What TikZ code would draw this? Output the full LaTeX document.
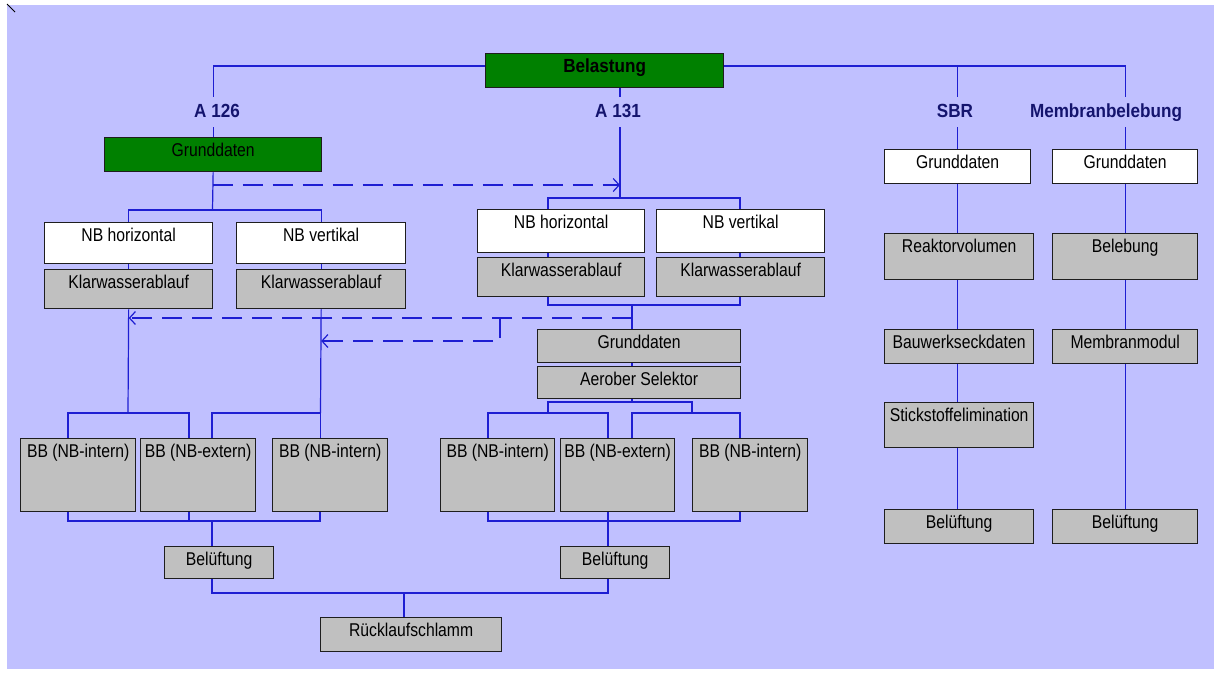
\documentclass[tikz,border=0pt]{standalone}
\usepackage{fontspec}
\usetikzlibrary{arrows.meta,calc}
\newfontfamily\boxfont{Liberation Sans}[FakeStretch=0.85]
\newfontfamily\lblfont{Liberation Sans}[FakeStretch=0.9]
\definecolor{bg}{RGB}{192,192,255}
\definecolor{lineblue}{RGB}{30,30,210}
\definecolor{navy}{RGB}{20,20,110}
\definecolor{boxgreen}{RGB}{0,128,0}
\definecolor{boxgray}{RGB}{192,192,192}
\definecolor{frame}{RGB}{30,30,30}
\newcommand\lblfnt{\lblfont\bfseries\fontsize{19}{21}\selectfont}
\tikzset{
  conn/.style={draw=lineblue, line width=1.2pt},
  dconn/.style={conn, dash pattern=on 20pt off 10pt, -{Straight Barb[length=6pt,width=13pt]}},
  boxframe/.style={draw=frame, line width=1.3pt, inner sep=0pt, anchor=north west},
  boxtext/.style={anchor=base, inner sep=0pt, font=\boxfont\fontsize{18.5}{20}\selectfont},
  lbl/.style={font=\lblfnt, text=navy, text height=13pt, text depth=3pt, minimum height=30pt, inner sep=0pt},
}
\newcommand\mkbox[7]{%
  \node[boxframe, fill=#6, minimum width={(#4-#2)*1pt}, minimum height={(#5-#3)*1pt}] (#1) at (#2,#3) {};
  \node[boxtext] (#1t) at ($(#1.north)+(0,19)$) {#7};
}
\begin{document}
\begin{tikzpicture}[x=1pt,y=-1pt]
\useasboundingbox (0,0) rectangle (1214,673);
\fill[white] (0,0) rectangle (1214,673);
\fill[bg] (7,5) rectangle (1214,669);
\draw[black, line width=1pt] (7,4) -- (15,12);

% top
\mkbox{bel}{485}{53}{723}{87}{boxgreen}{\lblfnt Belastung}
\node[lbl] (lA) at (217,112) {A 126};
\node[lbl] (lB) at (618,112) {A 131};
\node[lbl] (lS) at (955,112) {SBR};
\node[lbl] (lN) at (1106,112) {Membranbelebung};

% A 126
\mkbox{gdA}{104}{137}{321}{171}{boxgreen}{Grunddaten}
\mkbox{nbhL}{44}{222}{212}{263}{white}{NB horizontal}
\mkbox{nbvL}{236}{222}{405}{263}{white}{NB vertikal}
\mkbox{kwL1}{44}{269}{212}{308}{boxgray}{Klarwasserablauf}
\mkbox{kwL2}{236}{269}{405}{308}{boxgray}{Klarwasserablauf}
\mkbox{bbL1}{20}{438}{135}{511}{boxgray}{BB (NB-intern)}
\mkbox{bbL2}{140}{438}{255}{511}{boxgray}{BB (NB-extern)}
\mkbox{bbL3}{272}{438}{387}{511}{boxgray}{BB (NB-intern)}
\mkbox{belL}{164}{546}{273}{578}{boxgray}{Belüftung}
\mkbox{rl}{320}{617}{501}{651}{boxgray}{Rücklaufschlamm}

% A 131
\mkbox{nbhM}{477}{209}{644}{252}{white}{NB horizontal}
\mkbox{nbvM}{656}{209}{824}{252}{white}{NB vertikal}
\mkbox{kwM1}{477}{257}{644}{296}{boxgray}{Klarwasserablauf}
\mkbox{kwM2}{656}{257}{824}{296}{boxgray}{Klarwasserablauf}
\mkbox{gdM}{537}{329}{740}{362}{boxgray}{Grunddaten}
\mkbox{asM}{537}{366}{740}{398}{boxgray}{Aerober Selektor}
\mkbox{bbM1}{440}{438}{554}{511}{boxgray}{BB (NB-intern)}
\mkbox{bbM2}{560}{438}{674}{511}{boxgray}{BB (NB-extern)}
\mkbox{bbM3}{692}{438}{807}{511}{boxgray}{BB (NB-intern)}
\mkbox{belM}{560}{546}{669}{578}{boxgray}{Belüftung}

% SBR
\mkbox{gdS}{884}{149}{1030}{183}{white}{Grunddaten}
\mkbox{rvS}{884}{233}{1033}{279}{boxgray}{Reaktorvolumen}
\mkbox{bwS}{884}{329}{1033}{363}{boxgray}{Bauwerkseckdaten}
\mkbox{seS}{884}{402}{1033}{447}{boxgray}{Stickstoffelimination}
\mkbox{blS}{884}{509}{1033}{543}{boxgray}{Belüftung}

% Membranbelebung
\mkbox{gdN}{1052}{149}{1197}{183}{white}{Grunddaten}
\mkbox{beN}{1052}{233}{1197}{279}{boxgray}{Belebung}
\mkbox{mmN}{1052}{329}{1197}{363}{boxgray}{Membranmodul}
\mkbox{blN}{1052}{509}{1197}{543}{boxgray}{Belüftung}

% coordinates
\coordinate (top) at (0,66);
\coordinate (xB) at (620,0);
\coordinate (xC) at (632,0);
\coordinate (xL) at (212,0);
\coordinate (sB1) at (548,0);
\coordinate (sB2) at (740,0);
\coordinate (jA1) at (212.5,210);
\coordinate (jB1) at (620,198);
\coordinate (jB2) at (632,305);
\coordinate (jB3) at (632,402);
\coordinate (jB4) at (548,413);
\coordinate (jB5) at (692,413);
\coordinate (jB6) at (608,521);
\coordinate (jL1) at (128,413);
\coordinate (jL2) at (320.5,413);
\coordinate (jL6) at (212,521);
\coordinate (jR) at (404,593);
\coordinate (dA) at (212.5,185);
\coordinate (dB) at (632,318);
\coordinate (dC) at (500,318);
\coordinate (dD) at (500,341);

% top connectors
\draw[conn] (gdA.north) -- (gdA.north |- lA.south);
\draw[conn] (gdA.north |- lA.north) -- (gdA.north |- top) -- (bel.west |- top);
\draw[conn] (bel.east |- top) -- (gdN.north |- top) -- (gdN.north |- lN.north);
\draw[conn] (gdN.north |- lN.south) -- (gdN.north);
\draw[conn] (gdS.north |- top) -- (gdS.north |- lS.north);
\draw[conn] (gdS.north |- lS.south) -- (gdS.north);
\draw[conn] (xB |- bel.south) -- (xB |- lB.north);
\draw[conn] (xB |- lB.south) -- (jB1);

% A 126 connectors
\draw[conn] (gdA.south) -- (jA1);
\draw[conn] (nbhL.north) |- (jA1) -| (nbvL.north);
\draw[conn] (nbhL.south) -- (kwL1.north);
\draw[conn] (nbvL.south) -- (kwL2.north);
\draw[conn] (kwL1.south) -- (jL1);
\draw[conn] (kwL2.south) -- (jL2);
\draw[conn] ($(bbL1.north west)+(48,0)$) |- (jL1) -| ($(bbL2.north west)+(49,0)$);
\draw[conn] ($(bbL2.north west)+(72,0)$) |- (jL2) -- (jL2 |- bbL3.north);
\draw[conn] ($(bbL1.south west)+(48,0)$) |- (jL6) -| ($(bbL3.south west)+(48,0)$);
\draw[conn] ($(bbL2.south west)+(49,0)$) -- ++(0,10);
\draw[conn] (jL6) -- (xL |- belL.north);
\draw[conn] (xL |- belL.south) |- (jR) -| (jB6 |- belM.south);
\draw[conn] (jR) -- (jR |- rl.north);

% A 131 connectors
\draw[conn] (sB1 |- nbhM.north) |- (jB1) -| (sB2 |- nbvM.north);
\draw[conn] (sB1 |- nbhM.south) -- (sB1 |- kwM1.north);
\draw[conn] (sB2 |- nbvM.south) -- (sB2 |- kwM2.north);
\draw[conn] (sB1 |- kwM1.south) |- (jB2) -| (sB2 |- kwM2.south);
\draw[conn] (jB2) -- (xC |- gdM.north);
\draw[conn] (xC |- gdM.south) -- (xC |- asM.north);
\draw[conn] (xC |- asM.south) -- (jB3);
\draw[conn] (jB4) |- (jB3) -| (jB5);
\draw[conn] ($(bbM1.north west)+(48,0)$) |- (jB4) -| ($(bbM2.north west)+(48,0)$);
\draw[conn] ($(bbM2.north west)+(72,0)$) |- (jB5) -| ($(bbM3.north west)+(48,0)$);
\draw[conn] ($(bbM1.south west)+(48,0)$) |- (jB6) -| ($(bbM3.south west)+(48,0)$);
\draw[conn] ($(bbM2.south west)+(48,0)$) -- (jB6 |- belM.north);

% SBR / Membran columns
\draw[conn] (gdS.south) -- (gdS.south |- rvS.north);
\draw[conn] (gdS.south |- rvS.south) -- (gdS.south |- bwS.north);
\draw[conn] (gdS.south |- bwS.south) -- (gdS.south |- seS.north);
\draw[conn] (gdS.south |- seS.south) -- (gdS.south |- blS.north);
\draw[conn] (gdN.south) -- (gdN.south |- beN.north);
\draw[conn] (gdN.south |- beN.south) -- (gdN.south |- mmN.north);
\draw[conn] (gdN.south |- mmN.south) -- (gdN.south |- blN.north);

% dashed arrows
\draw[dconn] (dA) -- (xB |- dA);
\draw[dconn] (dB) -- (kwL1.south |- dB);
\draw[dconn] (dC) -- (dD) -- (kwL2.south |- dD);
\end{tikzpicture}
\end{document}
